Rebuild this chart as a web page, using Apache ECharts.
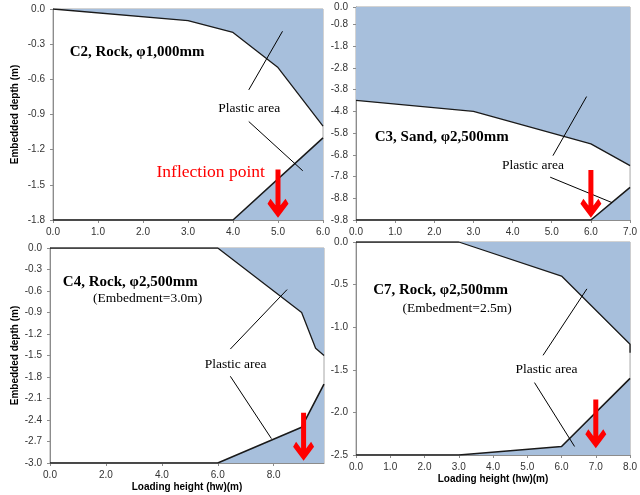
<!DOCTYPE html>
<html><head><meta charset="utf-8">
<script src="https://cdn.jsdelivr.net/npm/echarts@6/dist/echarts.min.js"></script>
<style>html,body{margin:0;padding:0;background:#fff}#c{width:640px;height:495px}</style>
</head><body><div id="c"></div>
<script>
// ---- data (loading height x, embedded depth y) ----
const c2UpperX = [0, 3, 4, 5, 6];
const c2UpperY = [0, -0.1, -0.2, -0.5, -1.0];
const c2LowerX = [0, 4, 6];
const c2LowerY = [-1.8, -1.8, -1.1];

const c3UpperX = [0, 3, 6, 7];
const c3UpperY = [-4.3, -4.8, -6.3, -7.3];
const c3LowerX = [0, 6, 7];
const c3LowerY = [-9.8, -9.8, -8.3];

const c4UpperX = [0, 6, 9, 9.5, 9.8];
const c4UpperY = [0, 0, -0.9, -1.4, -1.5];
const c4LowerX = [0, 6, 9, 9.8];
const c4LowerY = [-3.0, -3.0, -2.5, -1.9];

const c7UpperX = [0, 3, 6, 8, 8];
const c7UpperY = [0, 0, -0.4, -1.2, -1.3];
const c7LowerX = [0, 3, 6, 8];
const c7LowerY = [-2.5, -2.5, -2.4, -1.6];

// ---- tick labels ----
const c2XTicks = [0, 1, 2, 3, 4, 5, 6];
const c2YTicks = [0, -0.3, -0.6, -0.9, -1.2, -1.5, -1.8];
const c3XTicks = [0, 1, 2, 3, 4, 5, 6, 7];
const c3YTicks = [0, -0.8, -1.8, -2.8, -3.8, -4.8, -5.8, -6.8, -7.8, -8.8, -9.8];
const c4XTicks = [0, 2, 4, 6, 8];
const c4YTicks = [0, -0.3, -0.6, -0.9, -1.2, -1.5, -1.8, -2.1, -2.4, -2.7, -3.0];
const c7XTicks = [0, 1, 2, 3, 4, 5, 6, 7, 8];
const c7YTicks = [0, -0.5, -1.0, -1.5, -2.0, -2.5];

const xNames = ['', '', 'Loading height (hw)(m)', 'Loading height (hw)(m)'];
const yNames = ['Embedded depth (m)', '', 'Embedded depth (m)', ''];

// ---- annotations (data coordinates) ----
const titles = [
  {g:0, x:0.37, y:-0.365, text:'C2, Rock, φ1,000mm'},
  {g:1, x:0.48, y:-5.98, text:'C3, Sand, φ2,500mm'},
  {g:2, x:0.46, y:-0.48, text:'C4, Rock, φ2,500mm'},
  {g:3, x:0.50, y:-0.57, text:'C7, Rock, φ2,500mm'}
];
const subTitles = [
  {g:2, x:1.54, y:-0.71, text:'(Embedment=3.0m)'},
  {g:3, x:1.36, y:-0.78, text:'(Embedment=2.5m)'}
];
const plasticLabels = [
  {g:0, x:4.36, y:-0.85}, {g:1, x:4.52, y:-7.31},
  {g:2, x:6.64, y:-1.62}, {g:3, x:5.56, y:-1.50}
];
const leaders = [
  {g:0, a:[4.35,-0.69], b:[5.10,-0.19]}, {g:0, a:[4.35,-0.96], b:[5.55,-1.38]},
  {g:1, a:[5.03,-6.84], b:[5.89,-4.12]}, {g:1, a:[4.96,-7.83], b:[6.54,-9.0]},
  {g:2, a:[6.45,-1.41], b:[8.48,-0.58]}, {g:2, a:[6.45,-1.79], b:[7.92,-2.66]},
  {g:3, a:[5.46,-1.33], b:[6.74,-0.55]}, {g:3, a:[5.21,-1.65], b:[6.38,-2.40]}
];
const arrows = [
  {g:0, x:5, top:-1.37, tip:-1.78},
  {g:1, x:6, top:-7.5, tip:-9.7},
  {g:2, x:9.07, top:-2.3, tip:-2.97},
  {g:3, x:7, top:-1.85, tip:-2.42}
];
const inflection = {g:0, x:2.30, y:-1.39, text:'Inflection point'};

const panels = [
  {ux:c2UpperX, uy:c2UpperY, lx:c2LowerX, ly:c2LowerY, xt:c2XTicks, yt:c2YTicks, xmax:6, ymin:-1.8},
  {ux:c3UpperX, uy:c3UpperY, lx:c3LowerX, ly:c3LowerY, xt:c3XTicks, yt:c3YTicks, xmax:7, ymin:-9.8},
  {ux:c4UpperX, uy:c4UpperY, lx:c4LowerX, ly:c4LowerY, xt:c4XTicks, yt:c4YTicks, xmax:9.8, ymin:-3.0},
  {ux:c7UpperX, uy:c7UpperY, lx:c7LowerX, ly:c7LowerY, xt:c7XTicks, yt:c7YTicks, xmax:8, ymin:-2.5}
];

const FILL = '#a7bfdc';
const LINE = '#1a1a1a';
const AXIS = '#8c8c8c';
const SANS = 'Liberation Sans';
const SERIF = 'Liberation Serif';

const grids = [
  {left:53, top:9, width:270, height:211},
  {left:356, top:7, width:275, height:213},
  {left:50, top:248, width:274, height:215},
  {left:356, top:242, width:275, height:213}
].map(g => Object.assign(g, {show:true, borderColor:'#a6a6a6', borderWidth:1, backgroundColor:'transparent'}));

const yGaps = [33, 0, 30, 0];
const xAxes = [], yAxes = [], series = [];
panels.forEach((p, i) => {
  xAxes.push({
    type:'value', gridIndex:i, min:0, max:p.xmax,
    name:xNames[i], nameLocation:'middle', nameGap:19,
    nameTextStyle:{fontFamily:SANS, fontWeight:'bold', fontSize:10, color:'#000'},
    axisLine:{show:true, onZero:false, lineStyle:{color:AXIS, width:1}},
    axisTick:{show:true, inside:false, length:3, customValues:p.xt, lineStyle:{color:AXIS}},
    axisLabel:{customValues:p.xt, margin:7, fontFamily:SANS, fontSize:10, color:'#333',
      formatter:v => Number(v).toFixed(1)},
    splitLine:{show:false}
  });
  yAxes.push({
    type:'value', gridIndex:i, min:p.ymin, max:0,
    name:yNames[i], nameLocation:'middle', nameGap:yGaps[i], nameRotate:90,
    nameTextStyle:{fontFamily:SANS, fontWeight:'bold', fontSize:10, color:'#000'},
    axisLine:{show:true, onZero:false, lineStyle:{color:AXIS, width:1}},
    axisTick:{show:true, inside:false, length:3, customValues:p.yt, lineStyle:{color:AXIS}},
    axisLabel:{customValues:p.yt, margin:8, fontFamily:SANS, fontSize:10, color:'#333',
      formatter:v => Number(v).toFixed(1)},
    splitLine:{show:false}
  });
  series.push({
    type:'line', xAxisIndex:i, yAxisIndex:i, showSymbol:false, symbol:'none',
    data:p.ux.map((x, k) => [x, p.uy[k]]),
    lineStyle:{color:LINE, width:1.3}, areaStyle:{color:FILL, opacity:1, origin:'end'},
    z:2
  });
  series.push({
    type:'line', xAxisIndex:i, yAxisIndex:i, showSymbol:false, symbol:'none',
    data:p.lx.map((x, k) => [x, p.ly[k]]),
    lineStyle:{color:LINE, width:1.6}, areaStyle:{color:FILL, opacity:1, origin:'start'},
    z:2
  });
});

const chart = echarts.init(document.getElementById('c'), null, {renderer:'canvas'});
chart.setOption({
  animation:false,
  backgroundColor:'#fff',
  grid:grids, xAxis:xAxes, yAxis:yAxes, series:series
});

function px(g, pt) { return chart.convertToPixel({gridIndex:g}, pt); }

const gfx = [];
titles.forEach(t => {
  const p = px(t.g, [t.x, t.y]);
  gfx.push({type:'text', x:p[0], y:p[1], z:100,
    style:{text:t.text, font:'bold 15px "' + SERIF + '"', fill:'#000', textAlign:'left', textVerticalAlign:'middle'}});
});
subTitles.forEach(t => {
  const p = px(t.g, [t.x, t.y]);
  gfx.push({type:'text', x:p[0], y:p[1], z:100,
    style:{text:t.text, font:'13.5px "' + SERIF + '"', fill:'#000', textAlign:'left', textVerticalAlign:'middle'}});
});
plasticLabels.forEach(t => {
  const p = px(t.g, [t.x, t.y]);
  gfx.push({type:'text', x:p[0], y:p[1], z:100,
    style:{text:'Plastic area', font:'13.5px "' + SERIF + '"', fill:'#000', textAlign:'center', textVerticalAlign:'middle'}});
});
leaders.forEach(l => {
  const a = px(l.g, l.a), b = px(l.g, l.b);
  gfx.push({type:'line', z:100, shape:{x1:a[0], y1:a[1], x2:b[0], y2:b[1]},
    style:{stroke:'#000', lineWidth:1}});
});
{
  const p = px(inflection.g, [inflection.x, inflection.y]);
  gfx.push({type:'text', x:p[0], y:p[1], z:100,
    style:{text:inflection.text, font:'17.5px "' + SERIF + '"', fill:'#ff0000', textAlign:'left', textVerticalAlign:'middle'}});
}
arrows.forEach(a => {
  const top = px(a.g, [a.x, a.top]), tip = px(a.g, [a.x, a.tip]);
  const x = tip[0], ty = tip[1], L = ty - top[1];
  const pts = [[0,0],[-10.5,-14],[-7.5,-19],[-2.5,-12.3],[-2.5,-L],[2.5,-L],[2.5,-12.3],[7.5,-19],[10.5,-14]]
    .map(q => [x + q[0], ty + q[1]]);
  gfx.push({type:'polygon', z:101, shape:{points:pts}, style:{fill:'#ff0000', stroke:null}});
});
chart.setOption({graphic:gfx});
</script>
</body></html>
